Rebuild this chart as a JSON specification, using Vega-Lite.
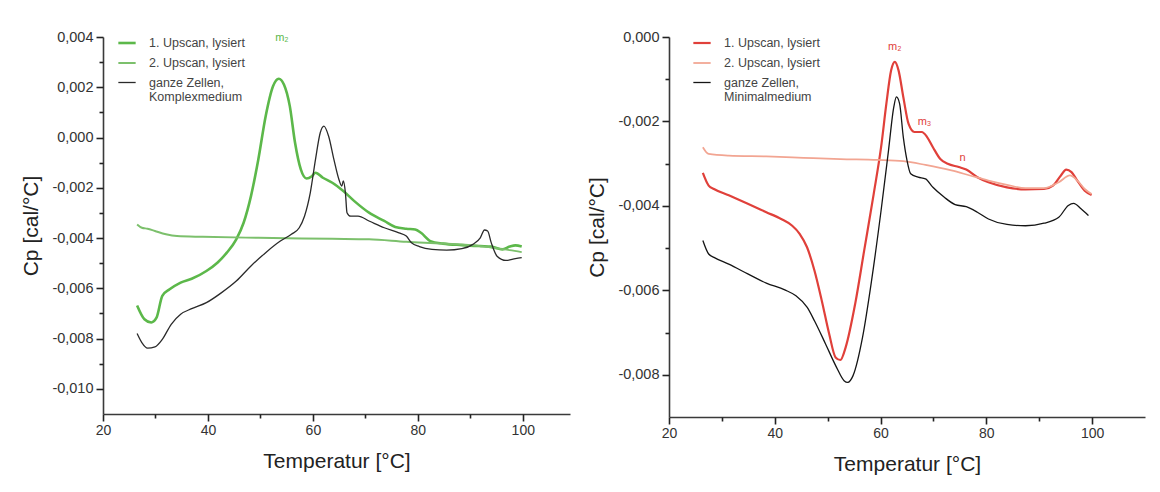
{
  "$schema": "https://vega.github.io/schema/vega-lite/v6.json",
  "background": "white",
  "padding": {"left": 20, "top": 29, "right": 5, "bottom": 5},
  "spacing": 16,
  "config": {
    "view": {"stroke": null},
    "axis": {"grid": false, "domainColor": "#3a3a3a", "domainWidth": 1.6, "tickColor": "#222222", "tickWidth": 1.6, "labelFont": "Liberation Sans", "labelColor": "#333333", "titleFont": "Liberation Sans", "titleFontWeight": "normal", "titleColor": "#222222", "titleFontSize": 21},
    "legend": {"orient": "none", "title": null, "symbolType": "stroke", "symbolSize": 300, "labelFont": "Liberation Sans", "labelFontSize": 12.5, "labelColor": "#444444", "rowPadding": 3, "padding": 0, "labelOffset": 12}
  },
  "datasets": {
    "left": [
      {"series": "1. Upscan, lysiert", "T": 26.5, "Cp": -0.00668},
      {"series": "1. Upscan, lysiert", "T": 27.9, "Cp": -0.00723},
      {"series": "1. Upscan, lysiert", "T": 29.2, "Cp": -0.00736},
      {"series": "1. Upscan, lysiert", "T": 30.2, "Cp": -0.00717},
      {"series": "1. Upscan, lysiert", "T": 31.3, "Cp": -0.0063},
      {"series": "1. Upscan, lysiert", "T": 32.7, "Cp": -0.00604},
      {"series": "1. Upscan, lysiert", "T": 34.8, "Cp": -0.00577},
      {"series": "1. Upscan, lysiert", "T": 36.9, "Cp": -0.00562},
      {"series": "1. Upscan, lysiert", "T": 39.7, "Cp": -0.00531},
      {"series": "1. Upscan, lysiert", "T": 41.8, "Cp": -0.00498},
      {"series": "1. Upscan, lysiert", "T": 43.6, "Cp": -0.00458},
      {"series": "1. Upscan, lysiert", "T": 45.4, "Cp": -0.00405},
      {"series": "1. Upscan, lysiert", "T": 46.8, "Cp": -0.00339},
      {"series": "1. Upscan, lysiert", "T": 48.2, "Cp": -0.00233},
      {"series": "1. Upscan, lysiert", "T": 49.6, "Cp": -0.00087},
      {"series": "1. Upscan, lysiert", "T": 51.0, "Cp": 0.00085},
      {"series": "1. Upscan, lysiert", "T": 52.4, "Cp": 0.00204},
      {"series": "1. Upscan, lysiert", "T": 53.5, "Cp": 0.00234},
      {"series": "1. Upscan, lysiert", "T": 54.5, "Cp": 0.0021},
      {"series": "1. Upscan, lysiert", "T": 55.6, "Cp": 0.00125},
      {"series": "1. Upscan, lysiert", "T": 56.6, "Cp": -0.00021},
      {"series": "1. Upscan, lysiert", "T": 57.7, "Cp": -0.00127},
      {"series": "1. Upscan, lysiert", "T": 58.8, "Cp": -0.00163},
      {"series": "1. Upscan, lysiert", "T": 59.8, "Cp": -0.00154},
      {"series": "1. Upscan, lysiert", "T": 60.5, "Cp": -0.0014},
      {"series": "1. Upscan, lysiert", "T": 61.9, "Cp": -0.0016},
      {"series": "1. Upscan, lysiert", "T": 63.7, "Cp": -0.0018},
      {"series": "1. Upscan, lysiert", "T": 65.8, "Cp": -0.00213},
      {"series": "1. Upscan, lysiert", "T": 67.9, "Cp": -0.00253},
      {"series": "1. Upscan, lysiert", "T": 70.7, "Cp": -0.00299},
      {"series": "1. Upscan, lysiert", "T": 73.6, "Cp": -0.00332},
      {"series": "1. Upscan, lysiert", "T": 75.7, "Cp": -0.00356},
      {"series": "1. Upscan, lysiert", "T": 77.8, "Cp": -0.00363},
      {"series": "1. Upscan, lysiert", "T": 79.5, "Cp": -0.00366},
      {"series": "1. Upscan, lysiert", "T": 80.6, "Cp": -0.00379},
      {"series": "1. Upscan, lysiert", "T": 82.4, "Cp": -0.00412},
      {"series": "1. Upscan, lysiert", "T": 84.8, "Cp": -0.00422},
      {"series": "1. Upscan, lysiert", "T": 88.4, "Cp": -0.00428},
      {"series": "1. Upscan, lysiert", "T": 91.9, "Cp": -0.00432},
      {"series": "1. Upscan, lysiert", "T": 94.0, "Cp": -0.00434},
      {"series": "1. Upscan, lysiert", "T": 96.1, "Cp": -0.00445},
      {"series": "1. Upscan, lysiert", "T": 97.5, "Cp": -0.00434},
      {"series": "1. Upscan, lysiert", "T": 98.6, "Cp": -0.00429},
      {"series": "1. Upscan, lysiert", "T": 99.8, "Cp": -0.00434},
      {"series": "2. Upscan, lysiert", "T": 26.5, "Cp": -0.00346},
      {"series": "2. Upscan, lysiert", "T": 27.4, "Cp": -0.00359},
      {"series": "2. Upscan, lysiert", "T": 28.5, "Cp": -0.00363},
      {"series": "2. Upscan, lysiert", "T": 29.9, "Cp": -0.00372},
      {"series": "2. Upscan, lysiert", "T": 32.0, "Cp": -0.00385},
      {"series": "2. Upscan, lysiert", "T": 34.1, "Cp": -0.00392},
      {"series": "2. Upscan, lysiert", "T": 39.0, "Cp": -0.00395},
      {"series": "2. Upscan, lysiert", "T": 49.6, "Cp": -0.00399},
      {"series": "2. Upscan, lysiert", "T": 63.7, "Cp": -0.00403},
      {"series": "2. Upscan, lysiert", "T": 70.7, "Cp": -0.00405},
      {"series": "2. Upscan, lysiert", "T": 77.8, "Cp": -0.00415},
      {"series": "2. Upscan, lysiert", "T": 84.8, "Cp": -0.00422},
      {"series": "2. Upscan, lysiert", "T": 91.9, "Cp": -0.00432},
      {"series": "2. Upscan, lysiert", "T": 95.4, "Cp": -0.00442},
      {"series": "2. Upscan, lysiert", "T": 97.5, "Cp": -0.00448},
      {"series": "2. Upscan, lysiert", "T": 99.8, "Cp": -0.00456},
      {"series": "ganze Zellen, Komplexmedium", "T": 26.5, "Cp": -0.0078},
      {"series": "ganze Zellen, Komplexmedium", "T": 27.4, "Cp": -0.00816},
      {"series": "ganze Zellen, Komplexmedium", "T": 28.5, "Cp": -0.00838},
      {"series": "ganze Zellen, Komplexmedium", "T": 29.9, "Cp": -0.00833},
      {"series": "ganze Zellen, Komplexmedium", "T": 31.3, "Cp": -0.00803},
      {"series": "ganze Zellen, Komplexmedium", "T": 33.0, "Cp": -0.00743},
      {"series": "ganze Zellen, Komplexmedium", "T": 34.8, "Cp": -0.00703},
      {"series": "ganze Zellen, Komplexmedium", "T": 36.9, "Cp": -0.00681},
      {"series": "ganze Zellen, Komplexmedium", "T": 39.7, "Cp": -0.00657},
      {"series": "ganze Zellen, Komplexmedium", "T": 42.6, "Cp": -0.00617},
      {"series": "ganze Zellen, Komplexmedium", "T": 45.4, "Cp": -0.00571},
      {"series": "ganze Zellen, Komplexmedium", "T": 48.2, "Cp": -0.00511},
      {"series": "ganze Zellen, Komplexmedium", "T": 51.0, "Cp": -0.00458},
      {"series": "ganze Zellen, Komplexmedium", "T": 53.8, "Cp": -0.00412},
      {"series": "ganze Zellen, Komplexmedium", "T": 55.9, "Cp": -0.00385},
      {"series": "ganze Zellen, Komplexmedium", "T": 57.4, "Cp": -0.00359},
      {"series": "ganze Zellen, Komplexmedium", "T": 58.4, "Cp": -0.00313},
      {"series": "ganze Zellen, Komplexmedium", "T": 59.5, "Cp": -0.0022},
      {"series": "ganze Zellen, Komplexmedium", "T": 60.5, "Cp": -0.00087},
      {"series": "ganze Zellen, Komplexmedium", "T": 61.4, "Cp": 0.00019},
      {"series": "ganze Zellen, Komplexmedium", "T": 62.1, "Cp": 0.00045},
      {"series": "ganze Zellen, Komplexmedium", "T": 63.0, "Cp": 0.00005},
      {"series": "ganze Zellen, Komplexmedium", "T": 64.0, "Cp": -0.00087},
      {"series": "ganze Zellen, Komplexmedium", "T": 64.96, "Cp": -0.00167},
      {"series": "ganze Zellen, Komplexmedium", "T": 65.5, "Cp": -0.00193},
      {"series": "ganze Zellen, Komplexmedium", "T": 65.8, "Cp": -0.00173},
      {"series": "ganze Zellen, Komplexmedium", "T": 66.2, "Cp": -0.0022},
      {"series": "ganze Zellen, Komplexmedium", "T": 66.5, "Cp": -0.00299},
      {"series": "ganze Zellen, Komplexmedium", "T": 67.2, "Cp": -0.00313},
      {"series": "ganze Zellen, Komplexmedium", "T": 68.6, "Cp": -0.00313},
      {"series": "ganze Zellen, Komplexmedium", "T": 70.7, "Cp": -0.00332},
      {"series": "ganze Zellen, Komplexmedium", "T": 73.6, "Cp": -0.00359},
      {"series": "ganze Zellen, Komplexmedium", "T": 76.4, "Cp": -0.00379},
      {"series": "ganze Zellen, Komplexmedium", "T": 77.8, "Cp": -0.00392},
      {"series": "ganze Zellen, Komplexmedium", "T": 78.8, "Cp": -0.00419},
      {"series": "ganze Zellen, Komplexmedium", "T": 80.3, "Cp": -0.00434},
      {"series": "ganze Zellen, Komplexmedium", "T": 82.7, "Cp": -0.00445},
      {"series": "ganze Zellen, Komplexmedium", "T": 85.5, "Cp": -0.00448},
      {"series": "ganze Zellen, Komplexmedium", "T": 88.4, "Cp": -0.00442},
      {"series": "ganze Zellen, Komplexmedium", "T": 90.5, "Cp": -0.00425},
      {"series": "ganze Zellen, Komplexmedium", "T": 91.9, "Cp": -0.00399},
      {"series": "ganze Zellen, Komplexmedium", "T": 92.7, "Cp": -0.00368},
      {"series": "ganze Zellen, Komplexmedium", "T": 93.3, "Cp": -0.00372},
      {"series": "ganze Zellen, Komplexmedium", "T": 94.0, "Cp": -0.00419},
      {"series": "ganze Zellen, Komplexmedium", "T": 95.1, "Cp": -0.00472},
      {"series": "ganze Zellen, Komplexmedium", "T": 96.8, "Cp": -0.00489},
      {"series": "ganze Zellen, Komplexmedium", "T": 98.6, "Cp": -0.00482},
      {"series": "ganze Zellen, Komplexmedium", "T": 99.8, "Cp": -0.00478}
    ],
    "right": [
      {"series": "1. Upscan, lysiert", "T": 26.4, "Cp": -0.00322},
      {"series": "1. Upscan, lysiert", "T": 27.5, "Cp": -0.00352},
      {"series": "1. Upscan, lysiert", "T": 28.5, "Cp": -0.0036},
      {"series": "1. Upscan, lysiert", "T": 31.3, "Cp": -0.00375},
      {"series": "1. Upscan, lysiert", "T": 34.9, "Cp": -0.00395},
      {"series": "1. Upscan, lysiert", "T": 38.4, "Cp": -0.00415},
      {"series": "1. Upscan, lysiert", "T": 41.2, "Cp": -0.00431},
      {"series": "1. Upscan, lysiert", "T": 43.3, "Cp": -0.00447},
      {"series": "1. Upscan, lysiert", "T": 44.7, "Cp": -0.00466},
      {"series": "1. Upscan, lysiert", "T": 46.1, "Cp": -0.00498},
      {"series": "1. Upscan, lysiert", "T": 47.5, "Cp": -0.00553},
      {"series": "1. Upscan, lysiert", "T": 48.9, "Cp": -0.00625},
      {"series": "1. Upscan, lysiert", "T": 50.3, "Cp": -0.00704},
      {"series": "1. Upscan, lysiert", "T": 51.5, "Cp": -0.00759},
      {"series": "1. Upscan, lysiert", "T": 52.4, "Cp": -0.00765},
      {"series": "1. Upscan, lysiert", "T": 53.4, "Cp": -0.00735},
      {"series": "1. Upscan, lysiert", "T": 55.2, "Cp": -0.00632},
      {"series": "1. Upscan, lysiert", "T": 56.9, "Cp": -0.00506},
      {"series": "1. Upscan, lysiert", "T": 58.7, "Cp": -0.00372},
      {"series": "1. Upscan, lysiert", "T": 60.1, "Cp": -0.00261},
      {"series": "1. Upscan, lysiert", "T": 61.1, "Cp": -0.00158},
      {"series": "1. Upscan, lysiert", "T": 62.0, "Cp": -0.00079},
      {"series": "1. Upscan, lysiert", "T": 62.7, "Cp": -0.00059},
      {"series": "1. Upscan, lysiert", "T": 63.4, "Cp": -0.00079},
      {"series": "1. Upscan, lysiert", "T": 64.3, "Cp": -0.00142},
      {"series": "1. Upscan, lysiert", "T": 65.3, "Cp": -0.00206},
      {"series": "1. Upscan, lysiert", "T": 66.4, "Cp": -0.00225},
      {"series": "1. Upscan, lysiert", "T": 67.8, "Cp": -0.00225},
      {"series": "1. Upscan, lysiert", "T": 68.8, "Cp": -0.00237},
      {"series": "1. Upscan, lysiert", "T": 69.9, "Cp": -0.00261},
      {"series": "1. Upscan, lysiert", "T": 71.3, "Cp": -0.00289},
      {"series": "1. Upscan, lysiert", "T": 72.7, "Cp": -0.003},
      {"series": "1. Upscan, lysiert", "T": 74.8, "Cp": -0.00308},
      {"series": "1. Upscan, lysiert", "T": 76.2, "Cp": -0.00314},
      {"series": "1. Upscan, lysiert", "T": 78.3, "Cp": -0.00332},
      {"series": "1. Upscan, lysiert", "T": 80.4, "Cp": -0.00344},
      {"series": "1. Upscan, lysiert", "T": 83.9, "Cp": -0.00356},
      {"series": "1. Upscan, lysiert", "T": 87.4, "Cp": -0.00361},
      {"series": "1. Upscan, lysiert", "T": 90.9, "Cp": -0.0036},
      {"series": "1. Upscan, lysiert", "T": 92.6, "Cp": -0.00352},
      {"series": "1. Upscan, lysiert", "T": 94.1, "Cp": -0.00328},
      {"series": "1. Upscan, lysiert", "T": 95.1, "Cp": -0.00314},
      {"series": "1. Upscan, lysiert", "T": 96.1, "Cp": -0.0032},
      {"series": "1. Upscan, lysiert", "T": 97.2, "Cp": -0.0034},
      {"series": "1. Upscan, lysiert", "T": 98.6, "Cp": -0.00364},
      {"series": "1. Upscan, lysiert", "T": 99.9, "Cp": -0.00374},
      {"series": "2. Upscan, lysiert", "T": 26.4, "Cp": -0.00261},
      {"series": "2. Upscan, lysiert", "T": 27.5, "Cp": -0.00277},
      {"series": "2. Upscan, lysiert", "T": 31.3, "Cp": -0.00281},
      {"series": "2. Upscan, lysiert", "T": 38.4, "Cp": -0.00283},
      {"series": "2. Upscan, lysiert", "T": 45.4, "Cp": -0.00286},
      {"series": "2. Upscan, lysiert", "T": 52.4, "Cp": -0.00289},
      {"series": "2. Upscan, lysiert", "T": 59.4, "Cp": -0.00291},
      {"series": "2. Upscan, lysiert", "T": 64.3, "Cp": -0.00294},
      {"series": "2. Upscan, lysiert", "T": 68.5, "Cp": -0.00303},
      {"series": "2. Upscan, lysiert", "T": 73.4, "Cp": -0.00316},
      {"series": "2. Upscan, lysiert", "T": 76.9, "Cp": -0.00328},
      {"series": "2. Upscan, lysiert", "T": 80.4, "Cp": -0.0034},
      {"series": "2. Upscan, lysiert", "T": 83.9, "Cp": -0.0035},
      {"series": "2. Upscan, lysiert", "T": 87.4, "Cp": -0.00358},
      {"series": "2. Upscan, lysiert", "T": 90.9, "Cp": -0.00358},
      {"series": "2. Upscan, lysiert", "T": 93.7, "Cp": -0.00344},
      {"series": "2. Upscan, lysiert", "T": 95.8, "Cp": -0.00328},
      {"series": "2. Upscan, lysiert", "T": 97.2, "Cp": -0.0034},
      {"series": "2. Upscan, lysiert", "T": 98.6, "Cp": -0.0036},
      {"series": "2. Upscan, lysiert", "T": 99.9, "Cp": -0.00372},
      {"series": "ganze Zellen, Minimalmedium", "T": 26.4, "Cp": -0.00482},
      {"series": "ganze Zellen, Minimalmedium", "T": 27.5, "Cp": -0.00514},
      {"series": "ganze Zellen, Minimalmedium", "T": 28.5, "Cp": -0.00522},
      {"series": "ganze Zellen, Minimalmedium", "T": 31.3, "Cp": -0.00538},
      {"series": "ganze Zellen, Minimalmedium", "T": 34.9, "Cp": -0.00561},
      {"series": "ganze Zellen, Minimalmedium", "T": 38.4, "Cp": -0.00583},
      {"series": "ganze Zellen, Minimalmedium", "T": 41.9, "Cp": -0.00599},
      {"series": "ganze Zellen, Minimalmedium", "T": 44.0, "Cp": -0.00613},
      {"series": "ganze Zellen, Minimalmedium", "T": 46.1, "Cp": -0.0064},
      {"series": "ganze Zellen, Minimalmedium", "T": 47.5, "Cp": -0.00672},
      {"series": "ganze Zellen, Minimalmedium", "T": 49.6, "Cp": -0.00727},
      {"series": "ganze Zellen, Minimalmedium", "T": 51.7, "Cp": -0.00783},
      {"series": "ganze Zellen, Minimalmedium", "T": 53.1, "Cp": -0.00814},
      {"series": "ganze Zellen, Minimalmedium", "T": 53.8, "Cp": -0.00818},
      {"series": "ganze Zellen, Minimalmedium", "T": 54.8, "Cp": -0.00802},
      {"series": "ganze Zellen, Minimalmedium", "T": 56.6, "Cp": -0.00711},
      {"series": "ganze Zellen, Minimalmedium", "T": 58.3, "Cp": -0.00577},
      {"series": "ganze Zellen, Minimalmedium", "T": 60.1, "Cp": -0.00411},
      {"series": "ganze Zellen, Minimalmedium", "T": 61.5, "Cp": -0.00269},
      {"series": "ganze Zellen, Minimalmedium", "T": 62.5, "Cp": -0.00166},
      {"series": "ganze Zellen, Minimalmedium", "T": 63.0, "Cp": -0.00142},
      {"series": "ganze Zellen, Minimalmedium", "T": 63.6, "Cp": -0.00158},
      {"series": "ganze Zellen, Minimalmedium", "T": 64.3, "Cp": -0.00237},
      {"series": "ganze Zellen, Minimalmedium", "T": 65.0, "Cp": -0.00292},
      {"series": "ganze Zellen, Minimalmedium", "T": 65.7, "Cp": -0.00324},
      {"series": "ganze Zellen, Minimalmedium", "T": 67.1, "Cp": -0.00332},
      {"series": "ganze Zellen, Minimalmedium", "T": 68.5, "Cp": -0.00336},
      {"series": "ganze Zellen, Minimalmedium", "T": 69.9, "Cp": -0.00356},
      {"series": "ganze Zellen, Minimalmedium", "T": 72.0, "Cp": -0.00379},
      {"series": "ganze Zellen, Minimalmedium", "T": 74.1, "Cp": -0.00397},
      {"series": "ganze Zellen, Minimalmedium", "T": 76.2, "Cp": -0.00402},
      {"series": "ganze Zellen, Minimalmedium", "T": 78.3, "Cp": -0.00415},
      {"series": "ganze Zellen, Minimalmedium", "T": 80.4, "Cp": -0.00431},
      {"series": "ganze Zellen, Minimalmedium", "T": 83.9, "Cp": -0.00444},
      {"series": "ganze Zellen, Minimalmedium", "T": 87.4, "Cp": -0.00447},
      {"series": "ganze Zellen, Minimalmedium", "T": 90.9, "Cp": -0.00441},
      {"series": "ganze Zellen, Minimalmedium", "T": 93.7, "Cp": -0.00427},
      {"series": "ganze Zellen, Minimalmedium", "T": 95.5, "Cp": -0.00399},
      {"series": "ganze Zellen, Minimalmedium", "T": 96.5, "Cp": -0.00394},
      {"series": "ganze Zellen, Minimalmedium", "T": 97.9, "Cp": -0.00407},
      {"series": "ganze Zellen, Minimalmedium", "T": 99.3, "Cp": -0.00423}
    ],
    "annL": [
      {"label": "m₂", "T": 54.1, "Cp": 0.00396}
    ],
    "annR": [
      {"label": "m₂", "T": 62.7, "Cp": -0.00024},
      {"label": "m₃", "T": 68.3, "Cp": -0.00202},
      {"label": "n", "T": 75.5, "Cp": -0.00286}
    ]
  },
  "hconcat": [
    {
      "width": 467,
      "height": 377,
      "resolve": {"axis": {"x": "independent", "y": "independent"}},
      "layer": [
        {
          "data": {"name": "left"},
          "mark": {"type": "line", "interpolate": "monotone"},
          "encoding": {
            "x": {"field": "T", "type": "quantitative", "scale": {"domain": [20, 109], "nice": false, "zero": false},
              "axis": {"orient": "bottom", "values": [20, 40, 60, 80, 100], "ticks": false, "labelFontSize": 14, "labelPadding": 9, "labelFlush": false, "title": "Temperatur [°C]", "titlePadding": 13}},
            "y": {"field": "Cp", "type": "quantitative", "scale": {"domain": [-0.011, 0.004], "nice": false, "zero": false},
              "axis": {"orient": "left", "values": [-0.010, -0.008, -0.006, -0.004, -0.002, 0, 0.002, 0.004], "ticks": false, "labelExpr": "replace(replace(format(datum.value, '.3f'), '.', ','), '−', '-')", "labelFontSize": 14.5, "labelPadding": 10, "labelFlush": false, "title": "Cp [cal/°C]", "titlePadding": 10}},
            "color": {"field": "series", "type": "nominal",
              "scale": {"domain": ["1. Upscan, lysiert", "2. Upscan, lysiert", "ganze Zellen, Komplexmedium"], "range": ["#5cb84a", "#7cc06c", "#2a2a2a"]},
              "legend": {"legendX": 14, "legendY": -4, "labelExpr": "datum.label == 'ganze Zellen, Komplexmedium' ? ['ganze Zellen,', 'Komplexmedium'] : datum.label"}},
            "strokeWidth": {"field": "series", "type": "nominal",
              "scale": {"domain": ["1. Upscan, lysiert", "2. Upscan, lysiert", "ganze Zellen, Komplexmedium"], "range": [2.6, 1.3, 1.4]}}
          }
        },
        {
          "data": {"name": "annL"},
          "mark": {"type": "text", "font": "Liberation Sans", "fontSize": 11, "color": "#5cb84a"},
          "encoding": {
            "x": {"field": "T", "type": "quantitative",
              "axis": {"orient": "bottom", "values": [30, 50, 70, 90], "tickSize": 4, "labels": false, "domain": false, "title": null}},
            "y": {"field": "Cp", "type": "quantitative",
              "axis": {"orient": "left", "values": [-0.009, -0.007, -0.005, -0.003, -0.001, 0.001, 0.003], "tickSize": 4, "labels": false, "domain": false, "title": null}},
            "text": {"field": "label"}
          }
        },
        {
          "data": {"name": "annL"},
          "mark": {"type": "text", "opacity": 0},
          "encoding": {
            "x": {"field": "T", "type": "quantitative",
              "axis": {"orient": "bottom", "values": [20, 40, 60, 80, 100], "tickSize": 7, "labels": false, "domain": false, "title": null}},
            "y": {"field": "Cp", "type": "quantitative",
              "axis": {"orient": "left", "values": [-0.010, -0.008, -0.006, -0.004, -0.002, 0, 0.002, 0.004], "tickSize": 7, "labels": false, "domain": false, "title": null}},
            "text": {"field": "label"}
          }
        }
      ]
    },
    {
      "width": 476,
      "height": 380,
      "resolve": {"axis": {"x": "independent", "y": "independent"}},
      "layer": [
        {
          "data": {"name": "right"},
          "mark": {"type": "line", "interpolate": "monotone"},
          "encoding": {
            "x": {"field": "T", "type": "quantitative", "scale": {"domain": [20, 110], "nice": false, "zero": false},
              "axis": {"orient": "bottom", "values": [20, 40, 60, 80, 100], "ticks": false, "labelFontSize": 14, "labelPadding": 9, "labelFlush": false, "title": "Temperatur [°C]", "titlePadding": 13}},
            "y": {"field": "Cp", "type": "quantitative", "scale": {"domain": [-0.009, 0], "nice": false, "zero": false},
              "axis": {"orient": "left", "values": [-0.008, -0.006, -0.004, -0.002, 0], "ticks": false, "labelExpr": "replace(replace(format(datum.value, '.3f'), '.', ','), '−', '-')", "labelFontSize": 14.5, "labelPadding": 10, "labelFlush": false, "title": "Cp [cal/°C]", "titlePadding": 10}},
            "color": {"field": "series", "type": "nominal",
              "scale": {"domain": ["1. Upscan, lysiert", "2. Upscan, lysiert", "ganze Zellen, Minimalmedium"], "range": ["#e0403a", "#f2a592", "#151515"]},
              "legend": {"legendX": 23, "legendY": -4, "labelExpr": "datum.label == 'ganze Zellen, Minimalmedium' ? ['ganze Zellen,', 'Minimalmedium'] : datum.label"}},
            "strokeWidth": {"field": "series", "type": "nominal",
              "scale": {"domain": ["1. Upscan, lysiert", "2. Upscan, lysiert", "ganze Zellen, Minimalmedium"], "range": [2.2, 1.3, 2.0]}}
          }
        },
        {
          "data": {"name": "annR"},
          "mark": {"type": "text", "font": "Liberation Sans", "fontSize": 11, "color": "#e0403a"},
          "encoding": {
            "x": {"field": "T", "type": "quantitative",
              "axis": {"orient": "bottom", "values": [30, 50, 70, 90], "tickSize": 4, "labels": false, "domain": false, "title": null}},
            "y": {"field": "Cp", "type": "quantitative",
              "axis": {"orient": "left", "values": [-0.007, -0.005, -0.003, -0.001], "tickSize": 4, "labels": false, "domain": false, "title": null}},
            "text": {"field": "label"}
          }
        },
        {
          "data": {"name": "annR"},
          "mark": {"type": "text", "opacity": 0},
          "encoding": {
            "x": {"field": "T", "type": "quantitative",
              "axis": {"orient": "bottom", "values": [20, 40, 60, 80, 100], "tickSize": 7, "labels": false, "domain": false, "title": null}},
            "y": {"field": "Cp", "type": "quantitative",
              "axis": {"orient": "left", "values": [-0.008, -0.006, -0.004, -0.002, 0], "tickSize": 7, "labels": false, "domain": false, "title": null}},
            "text": {"field": "label"}
          }
        }
      ]
    }
  ],
  "resolve": {"scale": {"color": "independent", "strokeWidth": "independent", "x": "independent", "y": "independent"}, "legend": {"color": "independent", "strokeWidth": "independent"}}
}
